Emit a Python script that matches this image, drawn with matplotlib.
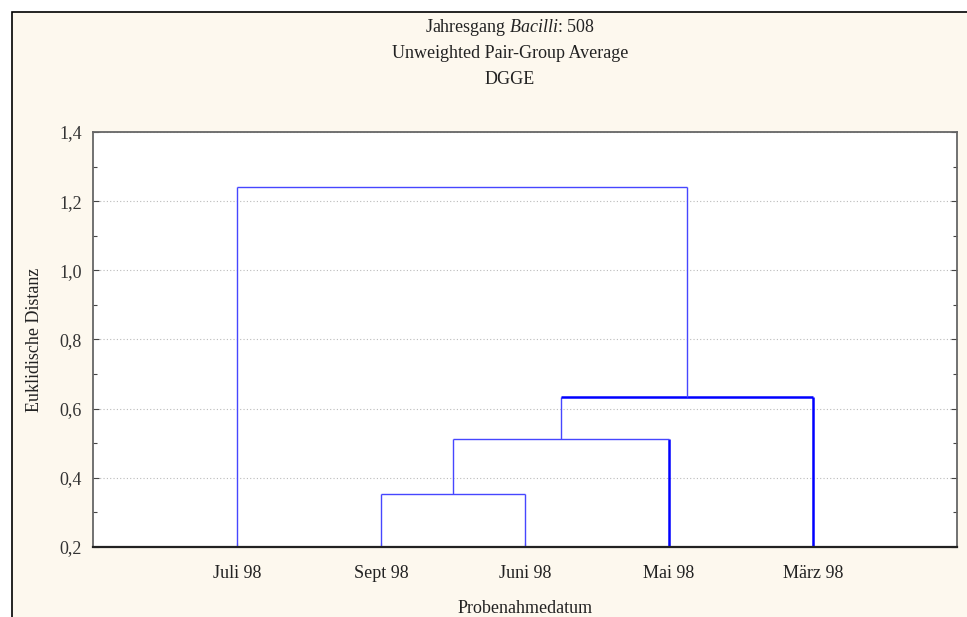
import matplotlib
matplotlib.use("Agg")
import matplotlib.pyplot as plt
from matplotlib.patches import Rectangle
from matplotlib.ticker import MultipleLocator, FuncFormatter

labels = ["Juli 98", "Sept 98", "Juni 98", "Mai 98", "März 98"]
# merges in scipy style: leaves 0..4, new clusters numbered 5, 6, 7, 8
merge_pairs = [(1, 2), (5, 3), (6, 4), (0, 7)]
merge_heights = [0.353, 0.511, 0.633, 1.241]
base = 0.2

W, H = 967, 617
plt.rcParams["font.family"] = ["Liberation Serif", "DejaVu Serif"]
plt.rcParams["mathtext.fontset"] = "custom"
plt.rcParams["mathtext.rm"] = "Liberation Serif"
plt.rcParams["mathtext.it"] = "Liberation Serif:italic"

fig = plt.figure(figsize=(W / 100, H / 100), dpi=100)
fig.patch.set_facecolor("white")

# cream panel with black frame on top and left
panel = Rectangle((12 / W, -0.1), 1.2, 1 - 12 / H + 0.1,
                  transform=fig.transFigure, facecolor="#fdf8ee",
                  edgecolor="black", linewidth=1.2, zorder=-5)
fig.add_artist(panel)

ax = fig.add_axes([93 / W, (H - 547) / H, 864 / W, 415 / H])
ax.set_facecolor("white")

thin, thick = 1.0, 1.8
# (left leg, horizontal, right leg) widths for each merge
widths = [(thin, thin, thin), (thin, thin, thick), (thin, thick, thick), (thin, thin, thin)]


def seg_color(w):
    return "#0000ff" if w > thin else "#4646ff"


xpos = {i: i + 1.0 for i in range(len(labels))}
ypos = {i: base for i in range(len(labels))}
for k, ((a, b), h) in enumerate(zip(merge_pairs, merge_heights)):
    node = len(labels) + k
    wl, wh, wr = widths[k]
    ax.plot([xpos[a], xpos[a]], [ypos[a], h], color=seg_color(wl), lw=wl, solid_capstyle="butt")
    ax.plot([xpos[b], xpos[b]], [ypos[b], h], color=seg_color(wr), lw=wr, solid_capstyle="butt")
    ax.plot([xpos[a], xpos[b]], [h, h], color=seg_color(wh), lw=wh, solid_capstyle="butt")
    xpos[node] = (xpos[a] + xpos[b]) / 2
    ypos[node] = h

fs = 13
ax.set_xlim(0, len(labels) + 1)
ax.set_ylim(0.2, 1.4)
ax.set_xticks(range(1, len(labels) + 1))
ax.set_xticklabels(labels, fontsize=fs)
ax.yaxis.set_major_locator(MultipleLocator(0.2))
ax.yaxis.set_minor_locator(MultipleLocator(0.1))
ax.yaxis.set_major_formatter(FuncFormatter(lambda v, p: f"{v:.1f}".replace(".", ",")))
ax.tick_params(axis="y", labelsize=fs, colors="#444444", labelcolor="#333333",
               direction="in", length=4, width=0.8, pad=8, right=True)
ax.tick_params(axis="y", which="minor", direction="in", length=3, width=0.8,
               colors="#444444", right=True)
ax.tick_params(axis="x", direction="in", length=3, pad=13, colors="#222222", labelcolor="#222222")
ax.grid(axis="y", which="major", linestyle=(0, (1, 2)), color="#bbbbbb", linewidth=0.8)

for name, sp in ax.spines.items():
    sp.set_color("#666666")
    sp.set_linewidth(1.3)
ax.spines["bottom"].set_color("#222222")
ax.spines["bottom"].set_linewidth(1.6)

ax.set_xlabel("Probenahmedatum", fontsize=fs, color="#222222", labelpad=13)
ax.set_ylabel("Euklidische Distanz", fontsize=fs, color="#222222", labelpad=12)

tx = 510 / W
fig.text(tx, 1 - 27 / H, "Jahresgang $\\it{Bacilli}$: 508", ha="center", va="center",
         fontsize=fs, color="#222222")
fig.text(tx, 1 - 53 / H, "Unweighted Pair-Group Average", ha="center", va="center",
         fontsize=fs, color="#222222")
fig.text(tx, 1 - 79 / H, "DGGE", ha="center", va="center", fontsize=fs, color="#222222")

fig.savefig("out.png", dpi=100, facecolor=fig.get_facecolor())
